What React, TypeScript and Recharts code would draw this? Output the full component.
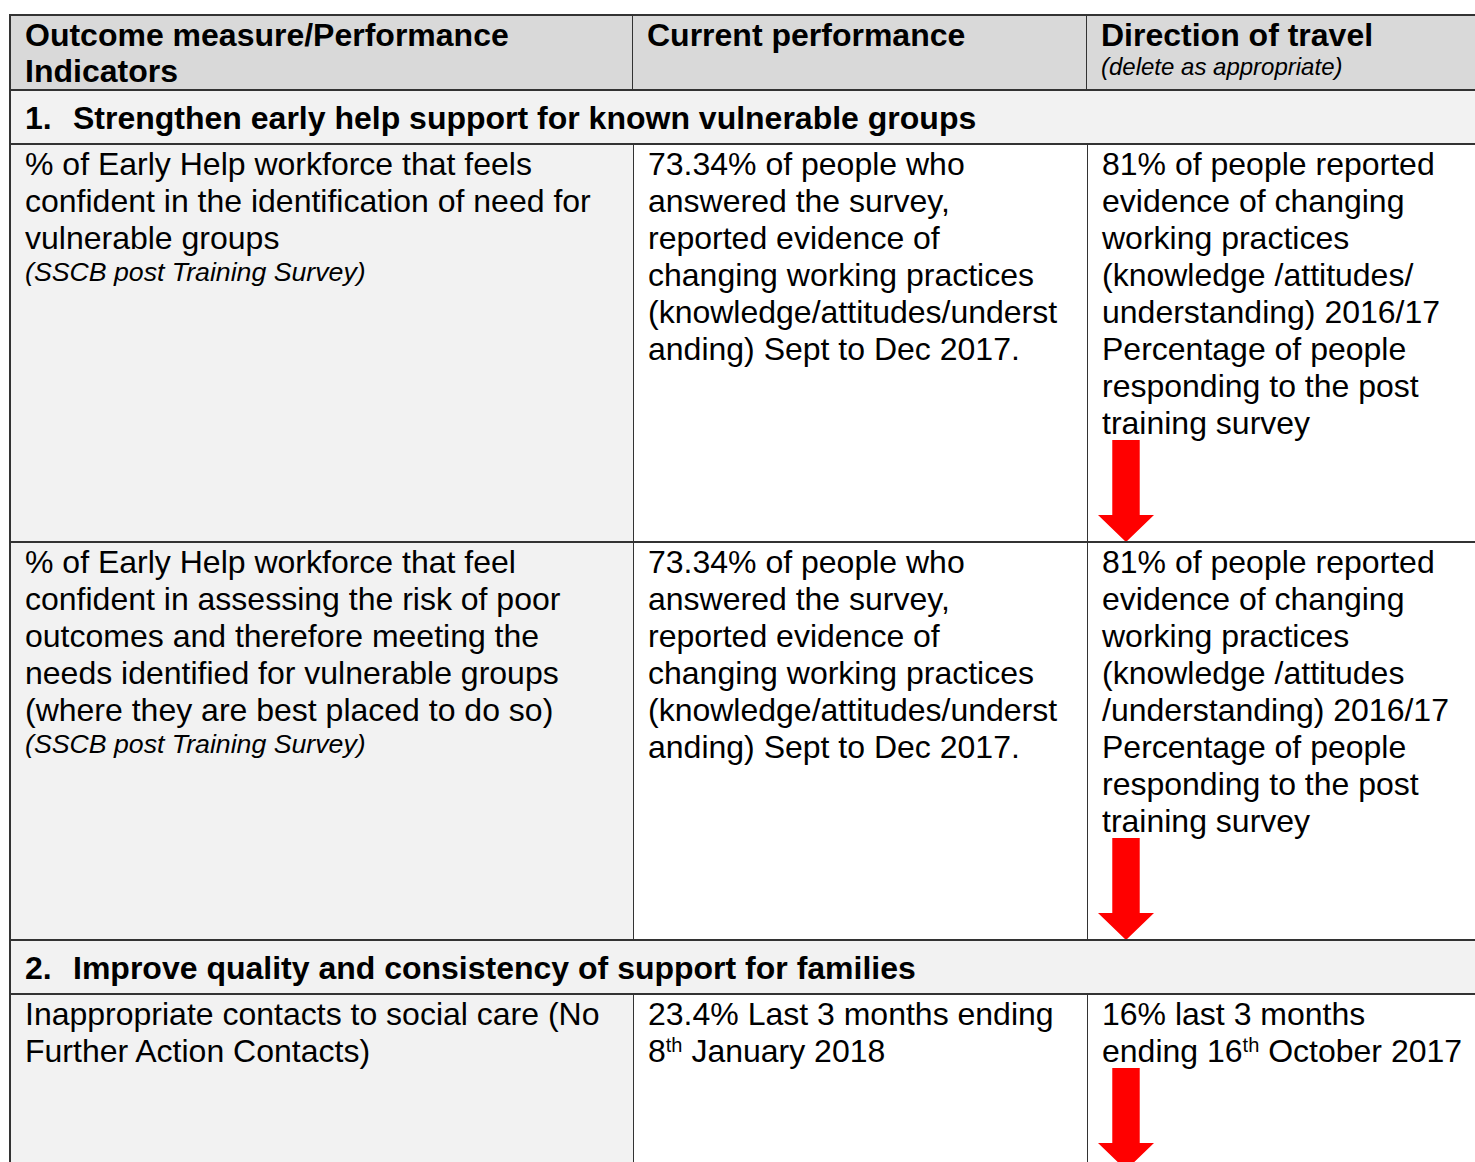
import React from "react";
import { BarChart, Bar, XAxis, YAxis } from "recharts";

const columnHeaders = [
  "Outcome measure/Performance\nIndicators",
  "Current performance",
  "Direction of travel",
];
const headerNote = "(delete as appropriate)";

const sectionNumbers = ["1.", "2."];
const sectionTitles = [
  "Strengthen early help support for known vulnerable groups",
  "Improve quality and consistency of support for families",
];

// which section each indicator row belongs to
const rowSections = [0, 0, 1];

const indicators = [
  "% of Early Help workforce that feels\nconfident in the identification of need for\nvulnerable groups",
  "% of Early Help workforce that feel\nconfident in assessing the risk of poor\noutcomes and therefore meeting the\nneeds identified for vulnerable groups\n(where they are best placed to do so)",
  "Inappropriate contacts to social care (No\nFurther Action Contacts)",
];
const sources = ["(SSCB post Training Survey)", "(SSCB post Training Survey)", ""];

const currentPerformance = [
  "73.34% of people who\nanswered the survey,\nreported evidence of\nchanging working practices\n(knowledge/attitudes/underst\nanding) Sept to Dec 2017.",
  "73.34% of people who\nanswered the survey,\nreported evidence of\nchanging working practices\n(knowledge/attitudes/underst\nanding) Sept to Dec 2017.",
  "23.4% Last 3 months ending\n8th January 2018",
];

const previousPerformance = [
  "81% of people reported\nevidence of changing\nworking practices\n(knowledge /attitudes/\nunderstanding) 2016/17\nPercentage of people\nresponding to the post\ntraining survey",
  "81% of people reported\nevidence of changing\nworking practices\n(knowledge /attitudes\n/understanding) 2016/17\nPercentage of people\nresponding to the post\ntraining survey",
  "16% last 3 months\nending 16th October 2017",
];

const directions = ["down", "down", "down"];

const rowHeights = [398, 398, 260];

const FONT = "'Liberation Sans', Arial, sans-serif";
const LINE = "#333";

// turn "16th" into 16<sup>th</sup>
const withOrdinals = (text: string) => {
  const parts = text.split(/(\d+)(st|nd|rd|th)\b/);
  const out: React.ReactNode[] = [];
  for (let i = 0; i < parts.length; i++) {
    if (i % 3 === 2) {
      out.push(
        <sup key={i} style={{ fontSize: 20, lineHeight: 0, verticalAlign: 10 }}>
          {parts[i]}
        </sup>
      );
    } else if (parts[i]) {
      out.push(<React.Fragment key={i}>{parts[i]}</React.Fragment>);
    }
  }
  return out;
};

const ArrowShape = (props: any) => {
  const { x, y, width, height, payload } = props;
  const shaft = width * 0.49;
  const head = height * 0.265;
  const cx = x + width / 2;
  let pts;
  if (payload.direction === "down") {
    pts = [
      [cx - shaft / 2, y],
      [cx + shaft / 2, y],
      [cx + shaft / 2, y + height - head],
      [x + width, y + height - head],
      [cx, y + height],
      [x, y + height - head],
      [cx - shaft / 2, y + height - head],
    ];
  } else {
    pts = [
      [cx, y],
      [x + width, y + head],
      [cx + shaft / 2, y + head],
      [cx + shaft / 2, y + height],
      [cx - shaft / 2, y + height],
      [cx - shaft / 2, y + head],
      [x, y + head],
    ];
  }
  return <polygon points={pts.map((p) => p.join(",")).join(" ")} fill="#ff0000" />;
};

const TrendArrow = ({ index }: { index: number }) => {
  const data = [{ row: index, direction: directions[index], value: 1 }];
  return (
    <div style={{ marginLeft: -4, marginTop: -2 }}>
      <BarChart
        width={56}
        height={102}
        data={data}
        margin={{ top: 0, right: 0, bottom: 0, left: 0 }}
        barCategoryGap={0}
      >
        <XAxis dataKey="row" hide />
        <YAxis hide domain={[0, 1]} />
        <Bar dataKey="value" shape={<ArrowShape />} isAnimationActive={false} />
      </BarChart>
    </div>
  );
};

const cellText: React.CSSProperties = {
  fontSize: 32,
  lineHeight: "37px",
  whiteSpace: "pre-line",
  color: "#000",
};

const cell = (width: number | string, bg: string, last = false, top = 1): React.CSSProperties => ({
  width,
  flex: last ? 1 : "none",
  boxSizing: "border-box",
  padding: `${top}px 14px 0`,
  background: bg,
  borderRight: last ? "none" : `1px solid ${LINE}`,
  height: "100%",
  overflow: "hidden",
});

const SectionRow = ({ s }: { s: number }) => (
  <div
    style={{
      height: 54,
      boxSizing: "border-box",
      borderBottom: `2px solid ${LINE}`,
      background: "#f2f2f2",
      padding: "9px 14px 0",
      fontSize: 32,
      fontWeight: "bold",
      lineHeight: "37px",
      whiteSpace: "nowrap",
    }}
  >
    <span style={{ display: "inline-block", width: 48 }}>{sectionNumbers[s]}</span>
    {sectionTitles[s]}
  </div>
);

export default function App() {
  const body: React.ReactNode[] = [];
  let lastSection = -1;
  indicators.forEach((ind, i) => {
    if (rowSections[i] !== lastSection) {
      lastSection = rowSections[i];
      body.push(<SectionRow key={`s${i}`} s={lastSection} />);
    }
    body.push(
      <div
        key={`r${i}`}
        style={{
          display: "flex",
          height: rowHeights[i],
          boxSizing: "border-box",
          borderBottom: `2px solid ${LINE}`,
        }}
      >
        <div style={cell(623, "#f2f2f2")}>
          <div style={cellText}>{ind}</div>
          {sources[i] && (
            <div style={{ fontSize: 26.7, lineHeight: "31px", fontStyle: "italic" }}>
              {sources[i]}
            </div>
          )}
        </div>
        <div style={cell(454, "#fff")}>
          <div style={cellText}>{withOrdinals(currentPerformance[i])}</div>
        </div>
        <div style={cell("auto", "#fff", true)}>
          <div style={cellText}>{withOrdinals(previousPerformance[i])}</div>
          <TrendArrow index={i} />
        </div>
      </div>
    );
  });

  return (
    <div
      style={{
        position: "fixed",
        left: 0,
        top: 0,
        width: 1475,
        height: 1162,
        overflow: "hidden",
        background: "#fff",
        fontFamily: FONT,
      }}
    >
      <div
        style={{
          position: "absolute",
          left: 9,
          top: 14,
          width: 1600,
          borderTop: `2px solid ${LINE}`,
          borderLeft: `2px solid ${LINE}`,
        }}
      >
        <div
          style={{
            display: "flex",
            height: 75,
            boxSizing: "border-box",
            borderBottom: `2px solid ${LINE}`,
            background: "#d9d9d9",
          }}
        >
          {columnHeaders.map((h, i) => (
            <div
              key={i}
              style={cell(i === 0 ? 622 : i === 1 ? 454 : "auto", "#d9d9d9", i === 2, 1)}
            >
              <div style={{ ...cellText, lineHeight: "36px", fontWeight: "bold" }}>{h}</div>
              {i === 2 && (
                <div style={{ fontSize: 24, lineHeight: "28px", fontStyle: "italic" }}>
                  {headerNote}
                </div>
              )}
            </div>
          ))}
        </div>
        {body}
      </div>
    </div>
  );
}
